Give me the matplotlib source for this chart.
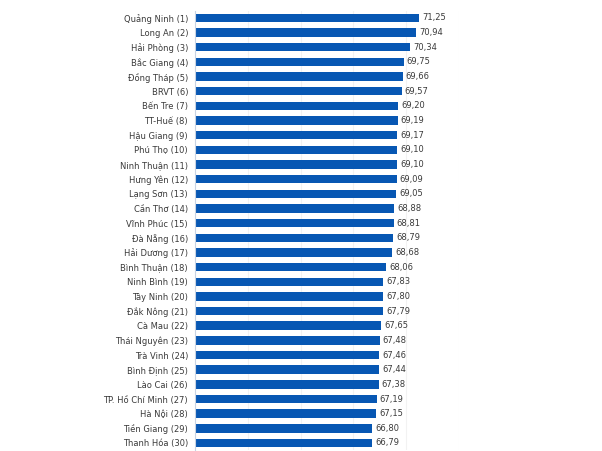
import matplotlib
matplotlib.use("Agg")
import matplotlib.pyplot as plt

provinces = [
    "Quảng Ninh (1)", "Long An (2)", "Hải Phòng (3)", "Bắc Giang (4)", "Đồng Tháp (5)",
    "BRVT (6)", "Bến Tre (7)", "TT-Huế (8)", "Hậu Giang (9)", "Phú Thọ (10)",
    "Ninh Thuận (11)", "Hưng Yên (12)", "Lạng Sơn (13)", "Cần Thơ (14)", "Vĩnh Phúc (15)",
    "Đà Nẵng (16)", "Hải Dương (17)", "Bình Thuận (18)", "Ninh Bình (19)", "Tây Ninh (20)",
    "Đắk Nông (21)", "Cà Mau (22)", "Thái Nguyên (23)", "Trà Vinh (24)", "Bình Định (25)",
    "Lào Cai (26)", "TP. Hồ Chí Minh (27)", "Hà Nội (28)", "Tiền Giang (29)", "Thanh Hóa (30)",
]
scores = [
    71.25, 70.94, 70.34, 69.75, 69.66, 69.57, 69.20, 69.19, 69.17, 69.10,
    69.10, 69.09, 69.05, 68.88, 68.81, 68.79, 68.68, 68.06, 67.83, 67.80,
    67.79, 67.65, 67.48, 67.46, 67.44, 67.38, 67.19, 67.15, 66.80, 66.79,
]

plt.rcParams['font.family'] = ['Liberation Sans Narrow', 'DejaVu Sans']

fig = plt.figure(figsize=(6.02, 4.51), dpi=100)
ax = fig.add_axes([0.324, 0.0015, 0.4385, 0.975])

y = list(range(len(provinces)))
ax.barh(y, scores, left=0, height=0.58, color="#0757b3", zorder=2)

# value labels with comma decimal separator
for yi, v in zip(y, scores):
    ax.text(v + 0.3, yi, f"{v:.2f}".replace(".", ","), va="center", ha="left",
            fontsize=6, color="#3a3a3a")

ax.set_xlim(50, 75)
ax.set_ylim(len(provinces) - 0.5, -0.5)
ax.set_yticks(y)
ax.set_yticklabels(provinces, fontsize=6, color="#3a3a3a")
ax.set_xticks([55, 60, 65, 70, 75])
ax.tick_params(axis="x", length=0, labelbottom=False)
ax.tick_params(axis="y", length=0, pad=5)
ax.grid(axis="x", color="#f2f2f2", linewidth=0.8, zorder=0)

for side in ["top", "right", "bottom"]:
    ax.spines[side].set_visible(False)
ax.spines["left"].set_color("#c8d3e3")
ax.spines["left"].set_linewidth(0.8)

fig.savefig("out.png", dpi=100)
